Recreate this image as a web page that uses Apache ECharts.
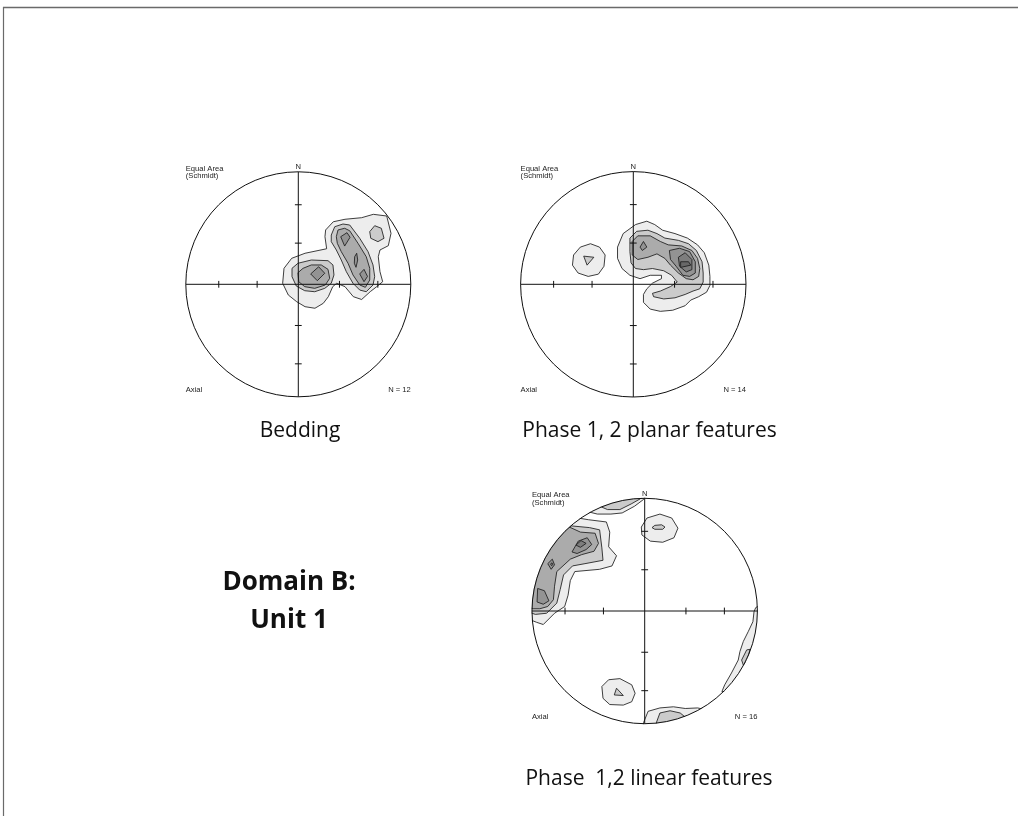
<!DOCTYPE html>
<html>
<head>
<meta charset="utf-8">
<script src="https://cdn.jsdelivr.net/npm/echarts@6/dist/echarts.min.js"></script>
<style>
  html, body { margin: 0; padding: 0; background: #fff; }
  #chart { width: 1018px; height: 819px; }
</style>
</head>
<body>
<div id="chart"></div>
<script>
// Equal-area (Schmidt) nets, lower hemisphere, unit radius.
// Contour polygons are given in net coordinates (x = east, y = north).

// Primitive-circle tick radii (plunge 60° and 30°)
const TICK_RADII = [0.366, 0.707];

// ---------- Bedding (N = 12) ----------
const BEDDING_L1 = [
  [[0.243,0.483],[0.311,0.556],[0.415,0.578],[0.563,0.592],[0.667,0.622],[0.786,0.607],[0.824,0.453],[0.80,0.343],[0.726,0.305],[0.711,0.245],[0.726,0.112],[0.75,0.023],[0.697,-0.021],[0.64,-0.065],[0.563,-0.135],[0.489,-0.11],[0.415,-0.021],[0.341,0.009],[0.306,-0.021],[0.267,-0.11],[0.222,-0.169],[0.148,-0.213],[0.06,-0.199],[-0.014,-0.155],[-0.089,-0.095],[-0.139,0.009],[-0.127,0.142],[-0.059,0.231],[0.06,0.276],[0.252,0.316],[0.237,0.423]]
];
const BEDDING_L2 = [
  [[-0.056,0.142],[-0.003,0.187],[0.116,0.216],[0.264,0.21],[0.308,0.172],[0.317,0.083],[0.293,0.009],[0.235,-0.036],[0.146,-0.066],[0.057,-0.057],[-0.018,-0.015],[-0.056,0.068]],
  [[0.293,0.438],[0.324,0.512],[0.397,0.536],[0.457,0.527],[0.546,0.409],[0.62,0.29],[0.664,0.172],[0.679,0.068],[0.664,-0.006],[0.604,-0.066],[0.546,-0.051],[0.486,0.009],[0.427,0.112],[0.382,0.216],[0.338,0.305],[0.293,0.379]],
  [[0.635,0.468],[0.679,0.521],[0.738,0.498],[0.762,0.409],[0.708,0.379],[0.644,0.409]]
];
const BEDDING_L3 = [
  [[-0.003,0.103],[0.042,0.142],[0.116,0.172],[0.204,0.172],[0.264,0.133],[0.279,0.053],[0.24,-0.006],[0.146,-0.036],[0.057,-0.021],[0.004,0.023]],
  [[0.338,0.423],[0.353,0.483],[0.412,0.498],[0.457,0.476],[0.531,0.364],[0.604,0.245],[0.635,0.142],[0.635,0.038],[0.596,-0.027],[0.546,-0.006],[0.486,0.083],[0.442,0.187],[0.382,0.29],[0.347,0.364]]
];
const BEDDING_L4 = [
  [[0.181,0.156],[0.235,0.098],[0.169,0.032],[0.11,0.092]],
  [[0.377,0.423],[0.433,0.459],[0.46,0.418],[0.412,0.34]],
  [[0.501,0.245],[0.519,0.276],[0.528,0.216],[0.513,0.151],[0.498,0.187]],
  [[0.546,0.092],[0.584,0.133],[0.615,0.07],[0.584,0.023]]
];

// ---------- Phase 1, 2 planar features (N = 14) ----------
const PLANAR_L1 = [
  [[-0.14,0.33],[-0.09,0.45],[0.02,0.53],[0.12,0.56],[0.19,0.53],[0.26,0.48],[0.37,0.45],[0.48,0.41],[0.57,0.35],[0.63,0.28],[0.67,0.17],[0.68,0.07],[0.68,-0.01],[0.65,-0.07],[0.58,-0.11],[0.51,-0.14],[0.46,-0.19],[0.35,-0.23],[0.24,-0.24],[0.15,-0.22],[0.09,-0.16],[0.09,-0.09],[0.12,-0.04],[0.17,0.01],[0.25,0.05],[0.25,0.08],[0.15,0.08],[0.06,0.05],[-0.03,0.08],[-0.10,0.14],[-0.14,0.23]],
  [[-0.53,0.26],[-0.47,0.33],[-0.38,0.36],[-0.30,0.33],[-0.25,0.26],[-0.26,0.16],[-0.31,0.09],[-0.40,0.07],[-0.49,0.10],[-0.54,0.17]]
];
const PLANAR_L2 = [
  [[-0.03,0.41],[0.03,0.47],[0.13,0.48],[0.21,0.45],[0.28,0.41],[0.40,0.39],[0.49,0.36],[0.56,0.30],[0.61,0.20],[0.62,0.10],[0.62,0.02],[0.59,-0.04],[0.53,-0.06],[0.46,-0.09],[0.37,-0.12],[0.27,-0.13],[0.18,-0.11],[0.17,-0.08],[0.24,-0.06],[0.33,-0.02],[0.39,0.02],[0.34,0.08],[0.27,0.12],[0.17,0.14],[0.09,0.13],[0.02,0.14],[-0.02,0.19],[-0.03,0.29]],
  [[-0.44,0.25],[-0.35,0.24],[-0.41,0.17]]
];
const PLANAR_L3 = [
  [[-0.01,0.38],[0.04,0.43],[0.15,0.43],[0.24,0.38],[0.31,0.35],[0.43,0.34],[0.52,0.30],[0.57,0.23],[0.59,0.14],[0.58,0.07],[0.53,0.04],[0.47,0.05],[0.40,0.10],[0.33,0.17],[0.28,0.23],[0.21,0.27],[0.13,0.24],[0.04,0.22],[-0.01,0.26]]
];
const PLANAR_L4 = [
  [[0.32,0.30],[0.41,0.32],[0.50,0.29],[0.55,0.20],[0.55,0.10],[0.50,0.07],[0.44,0.08],[0.38,0.16],[0.33,0.22]],
  [[0.06,0.33],[0.09,0.38],[0.12,0.33],[0.08,0.30]]
];
const PLANAR_L5 = [
  [[0.40,0.24],[0.46,0.28],[0.52,0.22],[0.52,0.13],[0.47,0.11],[0.41,0.16]]
];
const PLANAR_L6 = [
  [[0.42,0.20],[0.49,0.20],[0.51,0.17],[0.42,0.15]]
];

// ---------- Phase 1,2 linear features (N = 16) ----------
const LINEAR_L1 = [
  [[-0.62,0.83],[-0.50,0.81],[-0.34,0.79],[-0.31,0.70],[-0.32,0.57],[-0.25,0.49],[-0.29,0.40],[-0.40,0.37],[-0.62,0.35],[-0.66,0.27],[-0.68,0.14],[-0.71,0.04],[-0.80,-0.02],[-0.90,-0.12],[-0.96,-0.10],[-1.06,-0.06],[-1.06,0.30],[-0.96,0.60],[-0.78,0.78]],
  [[-0.50,0.88],[-0.42,0.86],[-0.30,0.86],[-0.20,0.87],[-0.09,0.93],[-0.01,0.99],[0.03,1.06],[-0.30,1.05],[-0.55,0.95]],
  [[-0.03,0.745],[0.02,0.825],[0.135,0.86],[0.24,0.825],[0.295,0.735],[0.26,0.65],[0.16,0.61],[0.05,0.62],[-0.025,0.675]],
  [[-0.38,-0.67],[-0.32,-0.61],[-0.22,-0.60],[-0.115,-0.655],[-0.085,-0.73],[-0.115,-0.805],[-0.19,-0.835],[-0.31,-0.83],[-0.37,-0.775]],
  [[-0.01,-0.99],[0.03,-0.89],[0.135,-0.86],[0.255,-0.85],[0.36,-0.865],[0.47,-0.86],[0.56,-0.88],[0.20,-1.06],[-0.02,-1.06]],
  [[0.985,0.03],[0.97,-0.006],[0.96,-0.095],[0.92,-0.18],[0.875,-0.27],[0.845,-0.36],[0.83,-0.435],[0.77,-0.55],[0.71,-0.655],[0.685,-0.715],[0.75,-0.72],[1.0,-0.4],[1.08,0.0],[1.02,0.05]]
];
const LINEAR_L2 = [
  [[-0.70,0.76],[-0.49,0.74],[-0.40,0.72],[-0.38,0.56],[-0.37,0.45],[-0.53,0.42],[-0.64,0.40],[-0.72,0.32],[-0.75,0.19],[-0.78,0.07],[-0.87,-0.02],[-0.97,-0.03],[-1.06,0.0],[-1.05,0.40],[-0.88,0.66]],
  [[-0.40,0.93],[-0.33,0.90],[-0.22,0.90],[-0.12,0.95],[-0.04,0.995],[0.0,1.05],[-0.40,1.0]],
  [[0.065,0.74],[0.09,0.76],[0.15,0.765],[0.18,0.745],[0.16,0.725],[0.09,0.725]],
  [[-0.25,-0.685],[-0.19,-0.75],[-0.27,-0.745]],
  [[0.10,-1.0],[0.135,-0.905],[0.225,-0.885],[0.315,-0.905],[0.37,-0.95],[0.40,-1.0],[0.10,-1.06]],
  [[0.905,-0.345],[0.935,-0.34],[0.91,-0.435],[0.875,-0.48],[0.86,-0.435]]
];
const LINEAR_L3 = [
  [[-0.68,0.75],[-0.57,0.70],[-0.44,0.69],[-0.41,0.60],[-0.45,0.53],[-0.56,0.50],[-0.66,0.46],[-0.78,0.35],[-0.80,0.22],[-0.81,0.10],[-0.86,0.04],[-0.93,0.02],[-0.99,0.02],[-1.06,0.04],[-1.05,0.40],[-0.86,0.66]]
];
const LINEAR_L4 = [
  [[-0.645,0.524],[-0.59,0.62],[-0.51,0.65],[-0.47,0.59],[-0.52,0.545],[-0.60,0.51]],
  [[-0.86,0.42],[-0.82,0.46],[-0.80,0.41],[-0.83,0.37]],
  [[-0.95,0.20],[-0.89,0.18],[-0.85,0.09],[-0.90,0.06],[-0.955,0.08]]
];
const LINEAR_L5 = [
  [[-0.61,0.585],[-0.565,0.625],[-0.52,0.60],[-0.57,0.565]],
  [[-0.835,0.415],[-0.825,0.428],[-0.815,0.415],[-0.825,0.402]]
];

// Net titles and counts
const NET_COUNTS = ['N = 12', 'N = 14', 'N = 16'];
const CAPTIONS = ['Bedding', 'Phase 1, 2 planar features', 'Phase  1,2 linear features'];
const DOMAIN_TITLE = ['Domain B:', 'Unit 1'];

// Fill shades, lowest contour first
const SHADES = ['#ededed', '#cbcbcb', '#ababab', '#939393', '#7d7d7d', '#686868'];

// Layout of each net: centre and radius in pixels
const nets = [
  { cx: 298.3, cy: 284.3, r: 112.5, levels: [BEDDING_L1, BEDDING_L2, BEDDING_L3, BEDDING_L4], count: NET_COUNTS[0] },
  { cx: 633.3, cy: 284.3, r: 112.7, levels: [PLANAR_L1, PLANAR_L2, PLANAR_L3, PLANAR_L4, PLANAR_L5, PLANAR_L6], count: NET_COUNTS[1] },
  { cx: 644.7, cy: 611.0, r: 112.7, levels: [LINEAR_L1, LINEAR_L2, LINEAR_L3, LINEAR_L4, LINEAR_L5], count: NET_COUNTS[2] }
];

const SMALL_FONT = '7.6px "Liberation Sans", Arial, sans-serif';
const INK = '#111';

const grid = [], xAxis = [], yAxis = [], series = [];

nets.forEach((net, i) => {
  grid.push({ left: net.cx - net.r, top: net.cy - net.r, width: 2 * net.r, height: 2 * net.r });
  xAxis.push({ type: 'value', gridIndex: i, min: -1, max: 1, show: false });
  yAxis.push({ type: 'value', gridIndex: i, min: -1, max: 1, show: false });

  // flatten levels into polygons, lowest level first
  const polys = [];
  net.levels.forEach((lvl, k) => lvl.forEach(pts => polys.push({ pts, fill: SHADES[k] })));

  series.push({
    type: 'custom',
    coordinateSystem: 'cartesian2d',
    xAxisIndex: i, yAxisIndex: i,
    silent: true, animation: false, z: 2,
    data: polys.map(() => [0, 0]),
    renderItem: (params, api) => {
      const p = polys[params.dataIndex];
      return {
        type: 'polygon',
        shape: { points: p.pts.map(v => api.coord(v)) },
        style: { fill: p.fill, stroke: '#1c1c1c', lineWidth: 0.85 }
      };
    }
  });

  // primitive circle, cross, ticks and labels
  series.push({
    type: 'custom',
    coordinateSystem: 'cartesian2d',
    xAxisIndex: i, yAxisIndex: i,
    silent: true, animation: false, z: 5,
    data: [[0, 0]],
    renderItem: (params, api) => {
      const c = api.coord([0, 0]);
      const r = api.size([1, 0])[0];
      const kids = [];
      // narrow white band outside the primitive hides contour overshoot
      kids.push({ type: 'circle', shape: { cx: c[0], cy: c[1], r: r + 8.5 },
        style: { fill: 'none', stroke: '#fff', lineWidth: 16 } });
      const lineStyle = { stroke: INK, lineWidth: 1, fill: 'none' };
      const w = api.coord([-1, 0]), e = api.coord([1, 0]);
      const n = api.coord([0, 1]), s = api.coord([0, -1]);
      kids.push({ type: 'line', shape: { x1: w[0], y1: w[1], x2: e[0], y2: e[1] }, style: lineStyle });
      kids.push({ type: 'line', shape: { x1: n[0], y1: n[1], x2: s[0], y2: s[1] }, style: lineStyle });
      const tl = 3.4;
      TICK_RADII.forEach(t => {
        [-t, t].forEach(v => {
          const ph = api.coord([v, 0]);
          kids.push({ type: 'line', shape: { x1: ph[0], y1: ph[1] - tl, x2: ph[0], y2: ph[1] + tl }, style: lineStyle });
          const pv = api.coord([0, v]);
          kids.push({ type: 'line', shape: { x1: pv[0] - tl, y1: pv[1], x2: pv[0] + tl, y2: pv[1] }, style: lineStyle });
        });
      });
      kids.push({ type: 'circle', shape: { cx: c[0], cy: c[1], r: r },
        style: { fill: 'none', stroke: INK, lineWidth: 1 } });
      const txt = (text, x, y, align) => ({ type: 'text',
        style: { text, x, y, font: SMALL_FONT, fill: '#222', align, verticalAlign: 'middle',
                 textAlign: align, textVerticalAlign: 'middle' } });
      kids.push(txt('Equal Area', c[0] - r, c[1] - r - 3, 'left'));
      kids.push(txt('(Schmidt)', c[0] - r, c[1] - r + 4.3, 'left'));
      kids.push(txt('N', c[0], c[1] - r - 4.6, 'center'));
      kids.push(txt('Axial', c[0] - r, c[1] + r - 7, 'left'));
      kids.push(txt(net.count, c[0] + r, c[1] + r - 7, 'right'));
      return { type: 'group', children: kids };
    }
  });
});

const CAPTION_FONT = '21px "Open Sans", "Noto Sans", sans-serif';
const BOLD_FONT = 'bold 26px "Open Sans", "Noto Sans", sans-serif';
const capText = (text, x, y, font) => ({
  type: 'text', silent: true, z: 100,
  style: { text, x, y, font, fill: '#111', align: 'center', verticalAlign: 'middle',
           textAlign: 'center', textVerticalAlign: 'middle' }
});

const chart = echarts.init(document.getElementById('chart'), null, { renderer: 'canvas' });
chart.setOption({
  animation: false,
  backgroundColor: '#fff',
  grid, xAxis, yAxis, series,
  graphic: [
    // page frame
    { type: 'line', silent: true, z: 100, shape: { x1: 3, y1: 7.5, x2: 1018, y2: 7.5 }, style: { stroke: '#6a6a6a', lineWidth: 1.6 } },
    { type: 'line', silent: true, z: 100, shape: { x1: 3.5, y1: 7, x2: 3.5, y2: 816 }, style: { stroke: '#6a6a6a', lineWidth: 1.2 } },
    capText(CAPTIONS[0], 300, 431, CAPTION_FONT),
    capText(CAPTIONS[1], 649.5, 431, CAPTION_FONT),
    capText(CAPTIONS[2], 649, 779, CAPTION_FONT),
    capText(DOMAIN_TITLE[0], 289, 583, BOLD_FONT),
    capText(DOMAIN_TITLE[1], 289, 621, BOLD_FONT)
  ]
});
</script>
</body>
</html>
